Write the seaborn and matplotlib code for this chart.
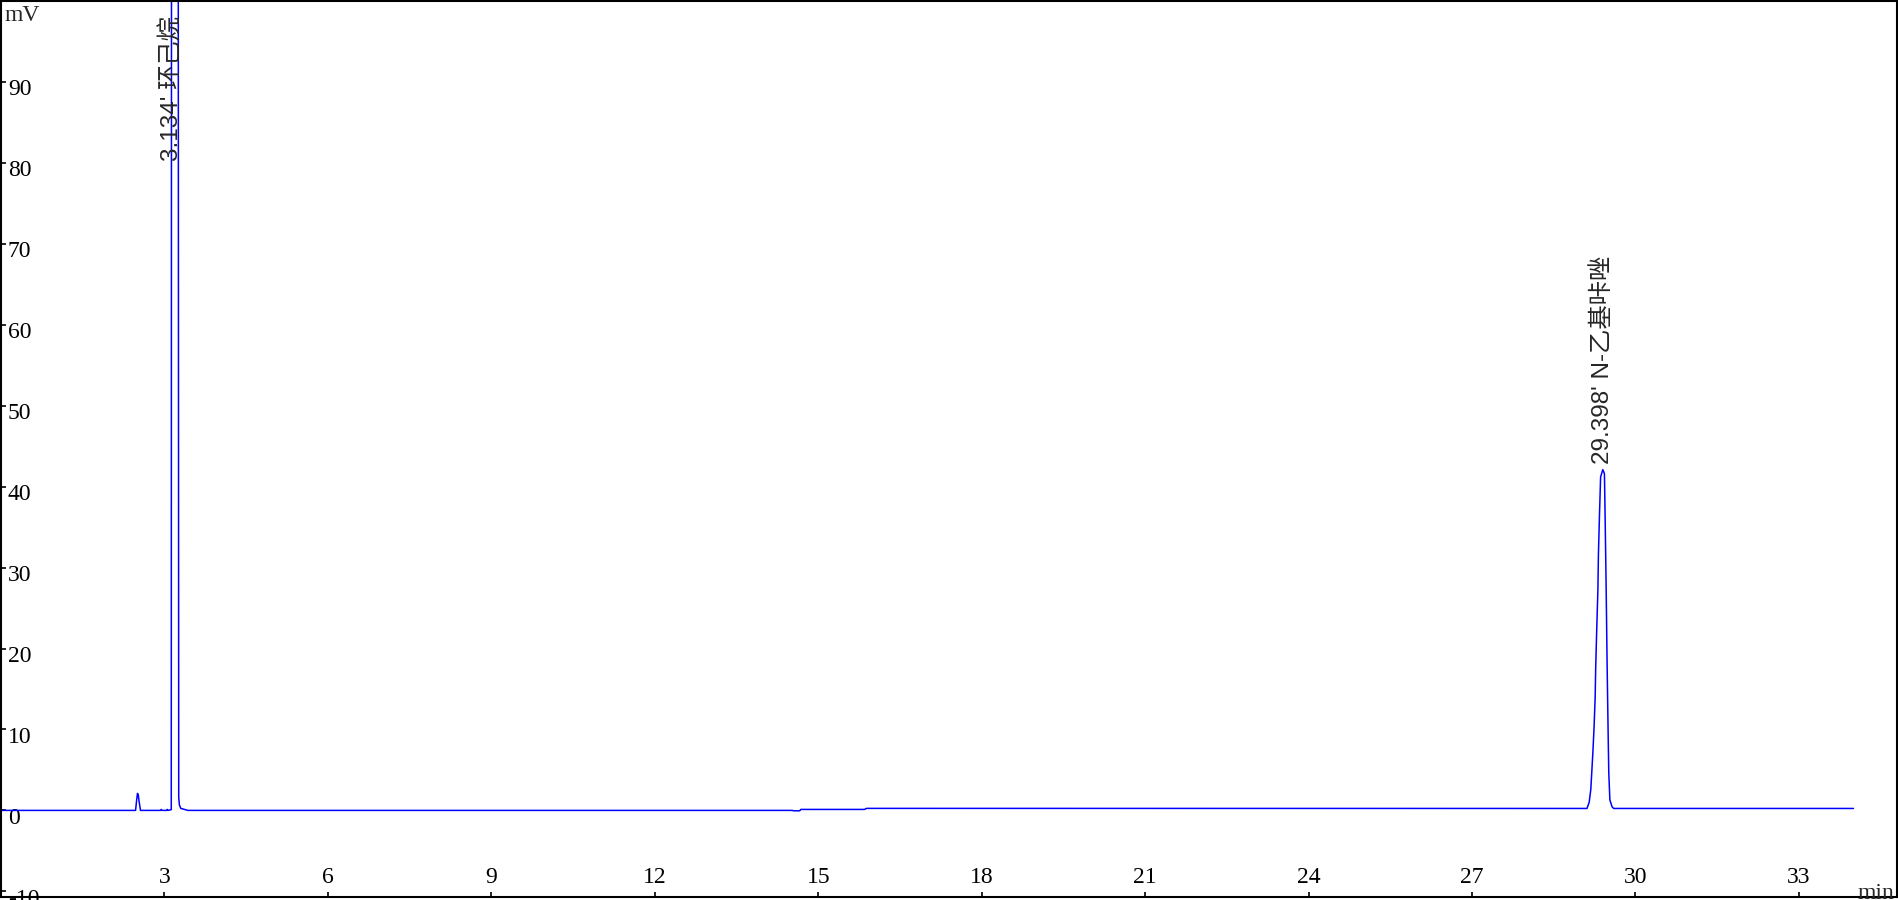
import matplotlib
matplotlib.use('Agg')
import matplotlib.pyplot as plt
import matplotlib.transforms as mtransforms
import seaborn as sns
import pandas as pd

# chromatogram trace (time in min, signal in mV)
time_min = [0.0, 2.47, 2.49, 2.505, 2.52, 2.535, 2.56, 2.93, 2.94, 2.96, 3.04, 3.05, 3.07,
            3.125, 3.13, 3.19, 3.252, 3.262, 3.275, 3.30, 3.43,
            14.52, 14.55, 14.66, 14.68, 15.85, 15.87, 15.89,
            29.11, 29.15, 29.18, 29.20, 29.22, 29.24, 29.26, 29.27, 29.29, 29.31, 29.32,
            29.34, 29.36, 29.40, 29.43, 29.44, 29.46, 29.48, 29.50, 29.51, 29.53, 29.57,
            29.60, 34.0]
signal_mv = [0.0, 0.0, 1.3, 2.1, 1.9, 1.1, 0.0, 0.0, 0.12, 0.0, 0.0, 0.12, 0.0,
             0.1, 120, 600, 120, 1.6, 0.65, 0.25, 0.0,
             0.0, -0.05, -0.05, 0.12, 0.12, 0.2, 0.25,
             0.24, 1.0, 2.6, 4.98, 7.44, 10.3, 14.0, 17.7, 22.7, 27.2, 31.7,
             36.7, 41.2, 42.1, 41.6, 37.5, 28.4, 17.7, 8.7, 4.6, 1.3, 0.45,
             0.24, 0.24]

peak_times = [3.134, 29.398]
peak_names = ['环己烷', 'N-乙基咔唑']

x_ticks = [3, 6, 9, 12, 15, 18, 21, 24, 27, 30, 33]
y_ticks = [-10, 0, 10, 20, 30, 40, 50, 60, 70, 80, 90]

df = pd.DataFrame({'t': time_min, 'mv': signal_mv})

sns.set_style('white')
plt.rcParams['font.family'] = ['Liberation Serif', 'Noto Sans CJK SC']

fig = plt.figure(figsize=(18.99, 9.0), dpi=100)
ax = fig.add_axes([1 / 1899, 3 / 900, 1896 / 1899, 896 / 900])

sns.lineplot(data=df, x='t', y='mv', ax=ax, color='#0000FF', linewidth=1.1,
             estimator=None, sort=False)

ax.set_xlim(0, 34.8)
ax.set_ylim(-10.7, 100)
ax.set_xlabel('')
ax.set_ylabel('')

for s in ax.spines.values():
    s.set_visible(True)
    s.set_color('black')
    s.set_linewidth(1.5)

ax.set_xticks(x_ticks)
ax.set_yticks(y_ticks)
ax.set_xticklabels([str(v) for v in x_ticks])
ax.set_yticklabels([str(v) for v in y_ticks])
ax.tick_params(axis='both', direction='in', length=3.5, width=1.2, colors='black',
               labelsize=17, left=True, bottom=True)
ax.tick_params(axis='y', pad=-5)
ax.tick_params(axis='x', pad=-10)

down = mtransforms.ScaledTranslation(0, -0.135, fig.dpi_scale_trans)
for lab in ax.get_yticklabels():
    lab.set_ha('left')
    lab.set_va('baseline')
    lab.set_transform(lab.get_transform() + down)
for lab in ax.get_xticklabels():
    lab.set_va('baseline')

ax.text(0.002, 0.995, 'mV', transform=ax.transAxes, ha='left', va='top', fontsize=17)
ax.text(0.9985, -0.002, 'min', transform=ax.transAxes, ha='right', va='baseline', fontsize=17)

# peak labels, clamped below the top for the off-scale peak
for t, name in zip(peak_times, peak_names):
    near = df[(df['t'] > t - 0.1) & (df['t'] < t + 0.1)]['mv'].max()
    ax.annotate(f"{t:.3f}' {name}", xy=(t, min(near, 79.5)), xytext=(0, 4),
                textcoords='offset points', rotation=90, ha='center', va='bottom',
                fontsize=17.5, family=['Liberation Sans', 'Noto Sans CJK SC'])

fig.savefig('out.png', dpi=100)
